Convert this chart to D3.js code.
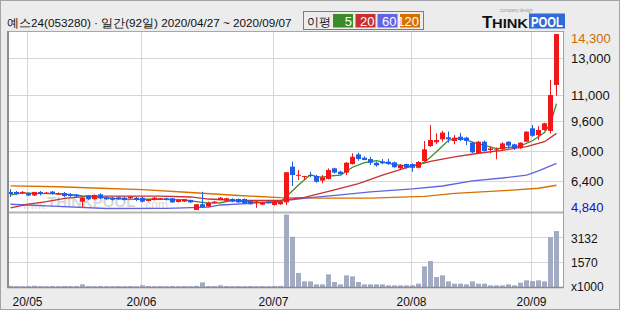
<!DOCTYPE html>
<html>
<head>
<meta charset="utf-8">
<script src="https://cdn.jsdelivr.net/npm/d3@7"></script>
<style>
  body { margin: 0; background: #fff; }
  svg { display: block; }
  text { font-family: "Liberation Sans", Arial, sans-serif; }
</style>
</head>
<body>
<div id="chart"></div>
<script>
// trading days, 2020/04/27 ~ 2020/09/07
const days = [
  "04/27","04/28","04/29",
  "05/04","05/06","05/07","05/08","05/11","05/12","05/13","05/14","05/15","05/18","05/19","05/20","05/21","05/22","05/25","05/26","05/27","05/28","05/29",
  "06/01","06/02","06/03","06/04","06/05","06/08","06/09","06/10","06/11","06/12","06/15","06/16","06/17","06/18","06/19","06/22","06/23","06/24","06/25","06/26","06/29","06/30",
  "07/01","07/02","07/03","07/06","07/07","07/08","07/09","07/10","07/13","07/14","07/15","07/16","07/17","07/20","07/21","07/22","07/23","07/24","07/27","07/28","07/29","07/30","07/31",
  "08/03","08/04","08/05","08/06","08/07","08/10","08/11","08/12","08/13","08/14","08/18","08/19","08/20","08/21","08/24","08/25","08/26","08/27","08/28","08/31",
  "09/01","09/02","09/03","09/04","09/07"
];

const openP = [5810,5810,5750,5750,5620,5810,5730,5830,5670,5750,5700,5670,5290,5630,5420,5680,5520,5500,5520,5500,
  5470,5500,5500,5320,5380,5420,5470,5470,5270,5290,5380,4840,5150,5020,5220,5380,5340,5430,5430,5430,
  5320,5220,5130,5290,5110,5150,5250,7170,6700,6640,6720,6670,6420,6510,7080,6900,6850,7310,7830,7650,
  7580,7380,7440,7440,7400,7080,7310,7310,7110,7470,8280,8480,8640,8750,8550,8780,8730,8460,7890,8510,
  8060,8080,8100,8510,8370,8160,8510,9230,8870,9140,9090,11560];
const highP = [5970,5860,5860,5780,5810,5860,5810,5860,5780,5810,5750,5700,5540,5650,5670,5730,5570,5540,5570,5540,
  5590,5540,5540,5430,5540,5490,5510,5490,5430,5430,5400,5160,5820,5300,5320,5540,5500,5470,5460,5460,
  5350,5330,5290,5320,5320,5310,6870,7440,6990,6670,6900,6720,6720,7080,7110,6950,7420,7890,7920,7720,
  7700,7440,7580,7600,7440,7310,7330,7340,7470,8550,9410,8960,9100,9060,8870,8990,8780,8500,8550,8570,
  8240,8200,8480,8530,8400,8480,9080,9410,9350,9530,11830,14300];
const lowP = [5540,5650,5700,5590,5590,5620,5700,5670,5650,5540,5540,5540,4990,5380,5400,5430,5380,5350,5380,5350,
  5430,5320,5240,5300,5350,5380,5350,5220,5240,5270,5220,4840,4960,5000,5190,5350,5320,5260,5230,5180,
  5130,4960,5100,5190,5080,5120,5100,6130,6450,6450,6600,6300,6280,6480,6800,6750,6720,7280,7490,7510,
  7260,7170,7300,7270,7110,7050,7060,6900,7080,7440,8230,8390,8510,8460,8370,8550,8330,7900,7860,7990,
  7890,7570,8080,8150,8060,8130,8490,8780,8600,9100,8960,10980];
const closeP = [5700,5700,5810,5620,5810,5700,5780,5700,5750,5590,5590,5570,5500,5420,5650,5470,5420,5390,5420,5380,
  5560,5380,5290,5400,5500,5470,5380,5250,5390,5420,5250,5150,4990,5230,5290,5500,5470,5290,5250,5200,
  5150,5290,5250,5220,5290,5290,6870,6720,6730,6670,6680,6360,6600,6990,6850,6770,7380,7700,7580,7530,
  7380,7240,7350,7310,7140,7260,7110,7110,7420,8100,8600,8600,9000,8640,8730,8600,8550,7940,8510,8010,
  8150,8100,8420,8300,8160,8460,9050,8830,9140,9500,11020,14300];

// volume, x1000 shares
const volume = [70,60,50,60,80,60,50,60,50,70,60,60,170,60,50,60,50,50,60,50,
  60,50,110,60,50,60,50,60,50,60,50,70,290,60,60,110,60,50,60,50,
  60,50,60,50,60,70,4540,3150,880,355,355,167,167,794,313,167,731,668,313,167,
  167,167,167,104,104,104,104,104,209,1295,1629,626,731,355,209,209,167,355,209,209,
  104,104,104,167,104,271,418,376,418,355,3132,3508];

// moving averages: [day index, price]
const ma5 = [[0,5650],[2,5760],[4,5730],[7,5720],[9,5700],[12,5600],[14,5550],[17,5470],[19,5420],[22,5410],
  [24,5430],[27,5400],[29,5380],[31,5290],[33,5210],[35,5230],[37,5360],[40,5270],[43,5220],[45,5270],
  [46,5580],[47,5880],[48,6180],[49,6460],[50,6730],[51,6630],[52,6610],[53,6660],[55,6710],[57,7140],
  [59,7390],[61,7490],[64,7280],[67,7190],[69,7400],[71,7970],[73,8590],[75,8710],[77,8490],[79,8320],
  [81,8140],[83,8200],[85,8290],[87,8560],[89,9000],[90,9500],[91,10560]];
const ma20 = [[0,4950],[3,5160],[6,5290],[9,5470],[13,5590],[20,5590],[25,5590],[30,5540],[33,5430],[38,5350],
  [45,5350],[49,5520],[54,5920],[58,6260],[62,6720],[66,7120],[70,7450],[74,7690],[78,7890],[82,8050],
  [86,8250],[89,8510],[91,8960]];
const ma60 = [[0,5150],[6,5060],[16,4920],[26,4930],[33,4990],[35,5110],[40,5200],[45,5320],[50,5510],[55,5650],
  [60,5810],[67,5970],[72,6130],[77,6400],[82,6560],[86,6720],[88,6940],[91,7350]];
const ma120 = [[0,6140],[8,6090],[15,6010],[22,5940],[30,5780],[38,5620],[45,5510],[52,5480],[60,5480],[69,5570],
  [74,5730],[83,5900],[88,6010],[91,6170]];

const maLabels = ["5", "20", "60", "120"];
const monthTicks = ["05/04", "06/01", "07/01", "08/03", "09/01"];
const monthLabels = ["20/05", "20/06", "20/07", "20/08", "20/09"];
const priceTicks = [13000, 11000, 9600, 8000, 6400];
const priceMax = 14300, priceMin = 4840;
const volTicks = [1570, 3132];
const volMax = 4640;

const maColors = ["#3a8c28", "#c83030", "#6262e2", "#d87000"];
const upColor = "#f01818", downColor = "#1f5ee6";

const W = 620, H = 310;
const plot = {left: 7, right: 563, top: 31, split: 212, bottom: 287};

const svg = d3.select("#chart").append("svg")
  .attr("width", W).attr("height", H);

// background + frame
svg.append("rect").attr("x", 0.5).attr("y", 0.5).attr("width", W - 1).attr("height", H - 1)
  .attr("fill", "#ececec").attr("stroke", "#a4a4a4");
svg.append("rect").attr("x", plot.left).attr("y", plot.top)
  .attr("width", plot.right - plot.left).attr("height", plot.bottom - plot.top)
  .attr("fill", "#fff");

// scales
const x = d3.scaleBand().domain(days).range([7, 7 + 6 * days.length]);
const y = d3.scaleLinear().domain([priceMin, priceMax]).range([210, 34]);
const yv = d3.scaleLinear().domain([0, volMax]).range([plot.bottom, plot.split + 1]);

const grid = svg.append("g").attr("stroke", "#d6d6d6").attr("stroke-width", 1);
monthTicks.forEach(d => {
  grid.append("line").attr("x1", x(d) + 2.5).attr("x2", x(d) + 2.5)
    .attr("y1", plot.top).attr("y2", plot.bottom);
});
priceTicks.forEach(v => {
  const yy = Math.round(y(v)) + 0.5;
  grid.append("line").attr("x1", plot.left).attr("x2", plot.right).attr("y1", yy).attr("y2", yy);
});
volTicks.forEach(v => {
  const yy = Math.round(yv(v)) + 0.5;
  grid.append("line").attr("x1", plot.left).attr("x2", plot.right).attr("y1", yy).attr("y2", yy);
});

// watermark
const wm = svg.append("g").attr("fill", "#b8b8b8").attr("opacity", 0.55);
wm.append("text").attr("x", 23).attr("y", 209).attr("font-size", 10).text("www.");
wm.append("text").attr("x", 47).attr("y", 207).attr("font-size", 15).attr("font-weight", "bold")
  .text("THINKPOOL");
wm.append("text").attr("x", 142).attr("y", 209).attr("font-size", 12).text(".com");

// volume bars
svg.append("g").selectAll("rect").data(days).join("rect")
  .attr("x", d => x(d) + 1)
  .attr("width", 5)
  .attr("y", (d, i) => yv(volume[i]))
  .attr("height", (d, i) => plot.bottom - yv(volume[i]))
  .attr("fill", "#a3abc3");

// moving averages
const line = d3.line().x(p => x(days[p[0]]) + 3.5).y(p => y(p[1]));
[ma120, ma60, ma20, ma5].forEach((ma, k) => {
  svg.append("path").attr("d", line(ma)).attr("fill", "none")
    .attr("stroke", maColors[3 - k]).attr("stroke-width", 1.3);
});

// candles
const candles = svg.append("g").selectAll("g").data(days).join("g");
candles.append("line")
  .attr("x1", d => x(d) + 3.5).attr("x2", d => x(d) + 3.5)
  .attr("y1", (d, i) => y(highP[i])).attr("y2", (d, i) => y(lowP[i]))
  .attr("stroke", (d, i) => closeP[i] >= openP[i] ? upColor : downColor);
candles.append("rect")
  .attr("x", d => x(d) + 1).attr("width", 5)
  .attr("y", (d, i) => y(Math.max(openP[i], closeP[i])))
  .attr("height", (d, i) => Math.max(1, Math.abs(y(openP[i]) - y(closeP[i]))))
  .attr("fill", (d, i) => closeP[i] >= openP[i] ? upColor : downColor);

// frame lines
const fr = svg.append("g").attr("fill", "none");
fr.append("line").attr("x1", plot.left).attr("x2", plot.right).attr("y1", plot.top + 0.5).attr("y2", plot.top + 0.5)
  .attr("stroke", "#a8a8a8");
fr.append("line").attr("x1", plot.left).attr("x2", plot.right).attr("y1", plot.split + 0.5).attr("y2", plot.split + 0.5)
  .attr("stroke", "#b4b4b4").attr("stroke-width", 2);
fr.append("line").attr("x1", plot.left + 1).attr("x2", plot.left + 1).attr("y1", plot.top).attr("y2", plot.bottom + 1)
  .attr("stroke", "#8c8c8c").attr("stroke-width", 2);
fr.append("line").attr("x1", plot.left).attr("x2", plot.right).attr("y1", plot.bottom + 0.5).attr("y2", plot.bottom + 0.5)
  .attr("stroke", "#8c8c8c").attr("stroke-width", 1.5);
fr.append("line").attr("x1", plot.right + 0.5).attr("x2", plot.right + 0.5).attr("y1", plot.top).attr("y2", plot.bottom + 1)
  .attr("stroke", "#a0a0a0");

// right axis labels
const fmt = d3.format(",");
const ax = svg.append("g").attr("font-size", 13).attr("fill", "#111");
ax.append("text").attr("x", 571).attr("y", y(priceMax) + 9).attr("fill", "#d06a00").text(fmt(priceMax));
priceTicks.forEach(v => {
  ax.append("text").attr("x", 571).attr("y", y(v) + 5).text(fmt(v));
});
ax.append("text").attr("x", 571).attr("y", y(priceMin) + 2).attr("fill", "#1010d0").text(fmt(priceMin));
volTicks.forEach(v => {
  ax.append("text").attr("x", 571).attr("y", yv(v) + 5.5).attr("font-size", 12).text(v);
});
ax.append("text").attr("x", 571).attr("y", plot.bottom + 4).attr("font-size", 12).text("x1000");

// x axis labels
svg.append("g").attr("font-size", 12).attr("fill", "#111").attr("text-anchor", "middle")
  .selectAll("text").data(monthTicks).join("text")
  .attr("x", d => x(d) + 2.5).attr("y", 306)
  .text((d, i) => monthLabels[i]);

// header
svg.append("text").attr("x", 7).attr("y", 27)
  .attr("font-family", "'Noto Sans CJK KR', sans-serif").attr("font-size", 11.7).attr("fill", "#111")
  .text("예스24(053280) · 일간(" + days.length + "일) 2020/04/27 ~ 2020/09/07");

// MA legend
const lg = svg.append("g");
lg.append("rect").attr("x", 303.5).attr("y", 11.5).attr("width", 120).attr("height", 18)
  .attr("fill", "none").attr("stroke", "#7c7c7c");
lg.append("text").attr("x", 307).attr("y", 26).attr("font-family", "'Noto Sans CJK KR', sans-serif")
  .attr("font-size", 12).attr("fill", "#111").text("이평");
const boxX = [333, 355.5, 377.5, 400];
maLabels.forEach((lab, k) => {
  lg.append("rect").attr("x", boxX[k]).attr("y", 14).attr("width", 20).attr("height", 13.5).attr("fill", maColors[k]);
  lg.append("text").attr("x", boxX[k] + 19).attr("y", 25.5).attr("text-anchor", "end")
    .attr("font-size", 13).attr("fill", "#fff").text(lab);
});

// THINKPOOL logo
const logo = svg.append("g").attr("font-weight", "bold");
logo.append("text").attr("x", 482).attr("y", 28).attr("font-size", 17).attr("fill", "#111").text("T");
logo.append("text").attr("x", 492).attr("y", 28).attr("font-size", 13).attr("fill", "#111")
  .attr("textLength", 36).attr("lengthAdjust", "spacingAndGlyphs").text("HINK");
logo.append("rect").attr("x", 529).attr("y", 13.5).attr("width", 36).attr("height", 15).attr("fill", "#2f6bd8");
logo.append("text").attr("x", 531).attr("y", 27).attr("font-size", 14).attr("fill", "#fff")
  .attr("textLength", 32).attr("lengthAdjust", "spacingAndGlyphs").text("POOL");
logo.append("text").attr("x", 500).attr("y", 12).attr("font-size", 4.5).attr("font-weight", "normal")
  .attr("fill", "#999").text("company design");
</script>
</body>
</html>
